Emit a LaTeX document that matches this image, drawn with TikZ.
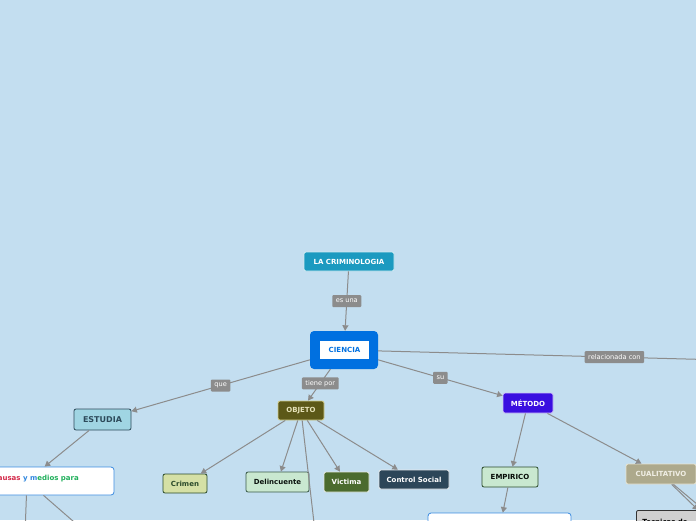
\documentclass[tikz,border=0pt]{standalone}
\usepackage{fontspec}
\usepackage{xcolor}
\usepackage{tikz}
\usetikzlibrary{arrows.meta}
\newfontfamily\mapfont{DejaVu Sans}

\definecolor{bgblue}{HTML}{C3DEF0}
\definecolor{linkgray}{HTML}{8C8C8C}
\definecolor{crimteal}{HTML}{1B9AC0}
\definecolor{cienblue}{HTML}{0070E0}
\definecolor{estfill}{HTML}{A0D5E3}
\definecolor{estdraw}{HTML}{2D4A5A}
\definecolor{objfill}{HTML}{5C5818}
\definecolor{objdraw}{HTML}{D4CF8E}
\definecolor{objtext}{HTML}{E6E2B8}
\definecolor{metfill}{HTML}{3A0EE0}
\definecolor{crmfill}{HTML}{D5E0A5}
\definecolor{crmdraw}{HTML}{2A4A2A}
\definecolor{delfill}{HTML}{C9E8D0}
\definecolor{deldraw}{HTML}{3A5A48}
\definecolor{vicfill}{HTML}{4B6B2E}
\definecolor{ctlfill}{HTML}{2C4659}
\definecolor{cuafill}{HTML}{ADA98C}
\definecolor{cuadraw}{HTML}{E8E4D2}
\definecolor{cuatext}{HTML}{F0EEE4}
\definecolor{tecfill}{HTML}{D0D0D0}
\definecolor{boxblue}{HTML}{3C8CE0}
\definecolor{causred}{HTML}{D42A4A}
\definecolor{causblue}{HTML}{2E86DE}
\definecolor{causgreen}{HTML}{1FAF5A}

\begin{document}
\begin{tikzpicture}[x=1pt, y=-1pt,
    topic/.style={rectangle, draw, rounded corners=2pt, inner sep=0pt, line width=0.8pt, font=\mapfont\bfseries\fontsize{7}{8}\selectfont},
    textbox/.style={rectangle, draw=boxblue, fill=white, rounded corners=3pt, line width=0.8pt},
    link/.style={rectangle, fill=linkgray, text=white, rounded corners=1pt, inner xsep=3.5pt, inner ysep=0pt, minimum height=12pt, font=\mapfont\fontsize{6.6}{7.5}\selectfont},
    conn/.style={draw=linkgray, line width=1pt, -{Triangle[width=6pt,length=5.5pt]}},
    plain/.style={draw=linkgray, line width=1pt}
]
\useasboundingbox (0,0) rectangle (696,520);
\fill[bgblue] (0,0) rectangle (696,520);
\clip (0,0) rectangle (696,520);

% Central topics
\node[topic, fill=crimteal, draw=white!80!crimteal, text=white, minimum width=90pt, minimum height=19pt] (crim) at (349,261.5) {LA CRIMINOLOGIA};
\node[rectangle, fill=cienblue, rounded corners=4pt, minimum width=68pt, minimum height=38pt] (ciencia) at (344,350) {};
\node[rectangle, fill=white, text=cienblue, inner sep=0pt, minimum width=49pt, minimum height=18pt, font=\mapfont\bfseries\fontsize{7}{8}\selectfont] (cienciatxt) at (344.5,350) {CIENCIA};

% First level
\node[topic, fill=estfill, draw=estdraw, text=estdraw, minimum width=57pt, minimum height=21pt, font=\mapfont\bfseries\fontsize{8}{9}\selectfont] (estudia) at (102.5,419.5) {ESTUDIA};
\node[topic, fill=objfill, draw=objdraw, text=objtext, minimum width=46pt, minimum height=19pt] (objeto) at (301,410.5) {OBJETO};
\node[topic, fill=metfill, draw=white!75!metfill, text=white, minimum width=50pt, minimum height=20pt] (metodo) at (528,403) {MÉTODO};

% What is studied
\node[textbox, minimum width=174pt, minimum height=28pt] (causas) at (27,481) {};
\node[anchor=base west, inner sep=0pt, font=\mapfont\bfseries\fontsize{7}{8}\selectfont] (causastxt) at (-6.5,480.5) {\textcolor{causred}{causas} \textcolor{causblue}{y m}\textcolor{causgreen}{edios para}};
\coordinate (causa1) at (24,560);
\coordinate (causa2) at (89,535);

% Objects
\node[topic, fill=crmfill, draw=crmdraw, text=crmdraw, minimum width=44pt, minimum height=19pt] (crimen) at (185,483.5) {Crimen};
\node[topic, fill=delfill, draw=deldraw, text=black!80!deldraw, minimum width=63pt, minimum height=20pt] (delincuente) at (277.5,482) {Delincuente};
\node[topic, fill=vicfill, draw=white!85!vicfill, text=white, minimum width=45pt, minimum height=20pt] (victima) at (346.5,482) {Victima};
\node[topic, fill=ctlfill, draw=white!88!ctlfill, text=white, minimum width=70pt, minimum height=19pt] (control) at (414,479.5) {Control Social};
\coordinate (objeto5) at (316,540);

% Methods
\node[topic, fill=delfill, draw=crmdraw, text=black!85!crmdraw, minimum width=56pt, minimum height=20pt] (empirico) at (510,477) {EMPIRICO};
\node[topic, fill=cuafill, draw=cuadraw, text=cuatext, minimum width=70pt, minimum height=20pt] (cualitativo) at (661,474) {CUALITATIVO};
\node[textbox, minimum width=143pt, minimum height=32pt] (empbox) at (499.5,529) {};
\node[topic, fill=tecfill, draw=black!80, text=black, anchor=north west, minimum width=148pt, minimum height=23pt, align=left, text width=136pt] (tecnicas) at (636,510) {Tecnicas de};
\coordinate (cuali2) at (740,540);
\coordinate (relacion) at (800,362);

% Connectors
\draw[conn] (crim) -- node[link] (esuna) {es una} (ciencia);
\draw[conn] (ciencia) -- node[link] (que) {que} (estudia);
\draw[conn] (ciencia) -- node[link, pos=0.45] (tienepor) {tiene por} (objeto);
\draw[conn] (ciencia) -- node[link] (su) {su} (metodo);
\draw[conn] (ciencia) -- node[link, pos=0.56] (relacionada) {relacionada con} (relacion);

\draw[conn] (estudia) -- (causas);
\draw[plain] (causas) -- (causa1);
\draw[plain] (causas) -- (causa2);

\draw[conn] (objeto) -- (crimen);
\draw[conn] (objeto) -- (delincuente);
\draw[conn] (objeto) -- (victima);
\draw[conn] (objeto) -- (control);
\draw[plain] (objeto) -- (objeto5);

\draw[conn] (metodo) -- (empirico);
\draw[conn] (metodo) -- (cualitativo);
\draw[conn] (empirico) -- (empbox);
\draw[conn] (cualitativo) -- (tecnicas);
\draw[plain] (cualitativo) -- (cuali2);

\end{tikzpicture}
\end{document}
